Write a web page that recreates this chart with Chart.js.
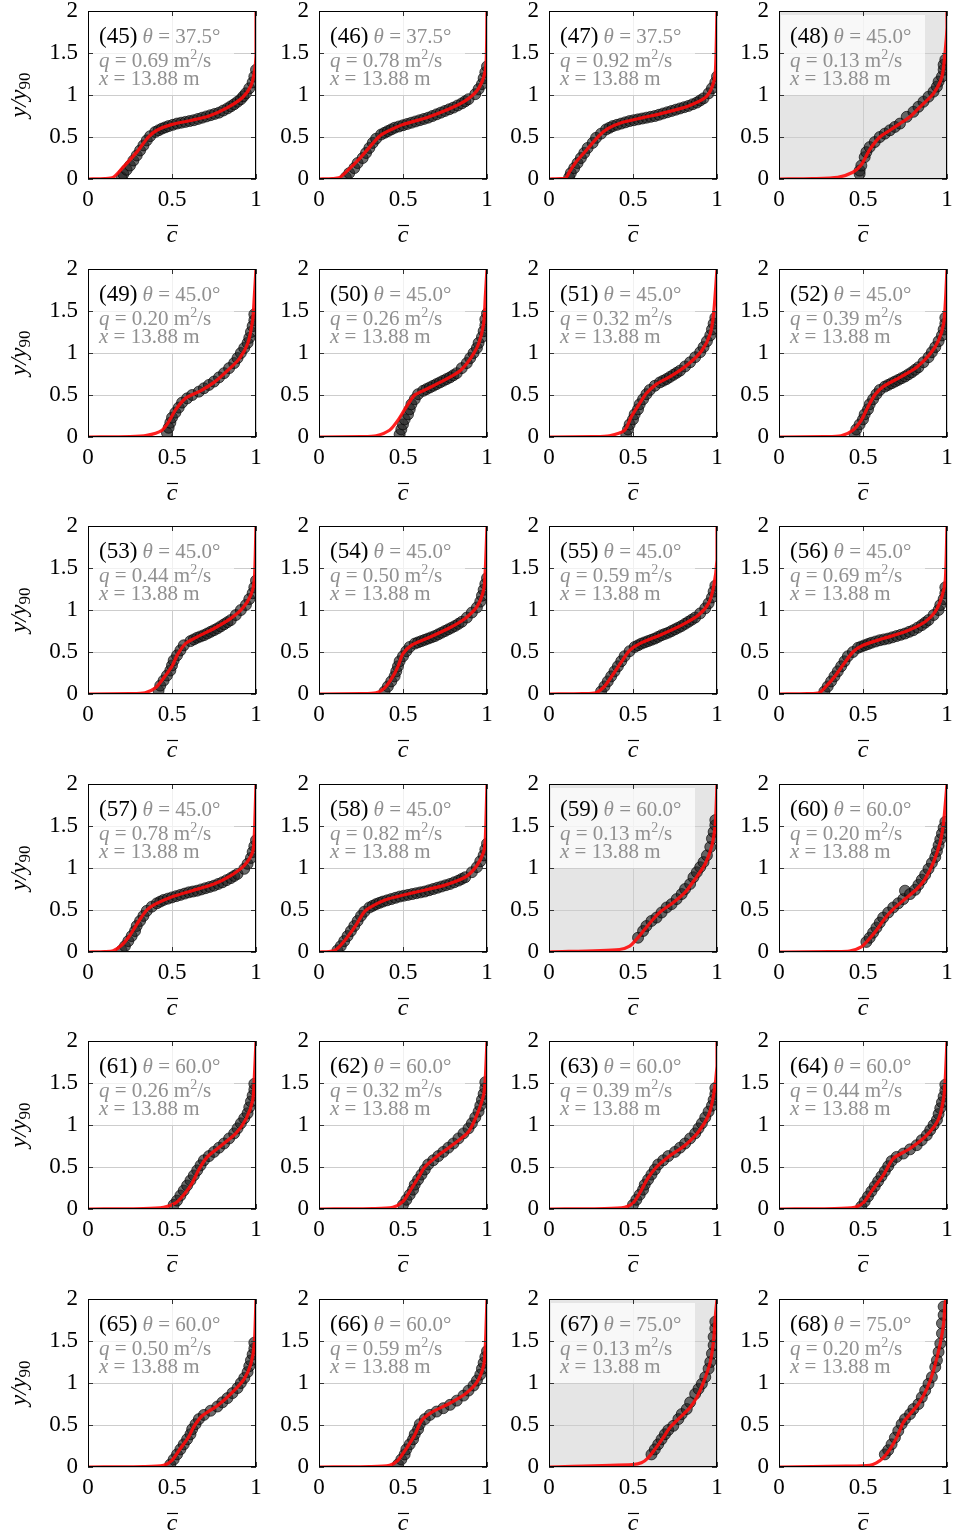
<!DOCTYPE html>
<html lang="en">
<head>
<meta charset="UTF-8">
<title>Concentration profiles</title>
<script src="https://cdn.jsdelivr.net/npm/chart.js"></script>
<style>
  body { margin: 0; background: #fff; }
  #grid { position: relative; width: 959px; height: 1532px; overflow: hidden; }
  #grid canvas { position: absolute; }
</style>
</head>
<body>
<div id="grid"></div>
<script>
// run info
const panelIds = [45, 46, 47, 48, 49, 50, 51, 52, 53, 54, 55, 56, 57, 58, 59, 60, 61, 62, 63, 64, 65, 66, 67, 68];
const thetas = [37.5, 37.5, 37.5, 45.0, 45.0, 45.0, 45.0, 45.0, 45.0, 45.0, 45.0, 45.0, 45.0, 45.0, 60.0, 60.0, 60.0, 60.0, 60.0, 60.0, 60.0, 60.0, 75.0, 75.0];
const discharges = [0.69, 0.78, 0.92, 0.13, 0.20, 0.26, 0.32, 0.39, 0.44, 0.50, 0.59, 0.69, 0.78, 0.82, 0.13, 0.20, 0.26, 0.32, 0.39, 0.44, 0.50, 0.59, 0.13, 0.20];
const stations = [13.88, 13.88, 13.88, 13.88, 13.88, 13.88, 13.88, 13.88, 13.88, 13.88, 13.88, 13.88, 13.88, 13.88, 13.88, 13.88, 13.88, 13.88, 13.88, 13.88, 13.88, 13.88, 13.88, 13.88];
const shadedPanels = [48, 59, 67];

const xTicks = [0, 0.5, 1];
const yTicks = [0, 0.5, 1, 1.5, 2];

// fitted profiles, [c, y/y90]
const fit45 = [[0,0],[0.1,0.005],[0.15,0.02],[0.2,0.12],[0.29,0.32],[0.36,0.5],[0.41,0.58],[0.5,0.65],[0.62,0.7],[0.72,0.75],[0.83,0.85],[0.92,0.97],[0.97,1.11],[0.99,1.27],[1,1.47],[1,2]];
const fit46 = [[0,0],[0.08,0.005],[0.12,0.015],[0.17,0.1],[0.24,0.24],[0.31,0.4],[0.36,0.51],[0.41,0.57],[0.5,0.65],[0.64,0.73],[0.77,0.83],[0.87,0.93],[0.94,1.05],[0.98,1.21],[0.995,1.39],[1,2]];
const fit47 = [[0,0],[0.07,0.004],[0.1,0.01],[0.12,0.08],[0.16,0.2],[0.23,0.36],[0.3,0.52],[0.35,0.6],[0.43,0.67],[0.56,0.73],[0.69,0.79],[0.83,0.87],[0.93,0.97],[0.97,1.09],[0.99,1.27],[1,2]];
const fit48 = [[0,0],[0.2,0.005],[0.35,0.02],[0.44,0.08],[0.49,0.17],[0.54,0.35],[0.6,0.5],[0.66,0.58],[0.72,0.66],[0.78,0.74],[0.84,0.86],[0.92,1.02],[0.97,1.22],[0.99,1.54],[1,1.8],[1,2]];
const fit49 = [[0,0],[0.25,0.005],[0.35,0.02],[0.44,0.08],[0.48,0.18],[0.52,0.32],[0.58,0.46],[0.67,0.55],[0.75,0.65],[0.83,0.79],[0.9,0.93],[0.95,1.11],[0.98,1.39],[0.99,1.67],[1,2]];
const fit50 = [[0,0],[0.25,0.005],[0.34,0.015],[0.42,0.08],[0.47,0.2],[0.52,0.36],[0.57,0.5],[0.64,0.57],[0.74,0.67],[0.84,0.79],[0.9,0.93],[0.95,1.11],[0.98,1.35],[0.99,1.67],[1,2]];
const fit51 = [[0,0],[0.26,0.005],[0.36,0.015],[0.45,0.08],[0.49,0.24],[0.54,0.4],[0.58,0.52],[0.64,0.63],[0.73,0.73],[0.83,0.87],[0.91,1.03],[0.96,1.23],[0.98,1.47],[1,2]];
const fit52 = [[0,0],[0.27,0.005],[0.37,0.015],[0.44,0.08],[0.49,0.2],[0.53,0.36],[0.57,0.5],[0.62,0.6],[0.72,0.71],[0.82,0.83],[0.9,0.99],[0.95,1.15],[0.98,1.35],[0.99,1.59],[1,2]];
const fit53 = [[0,0],[0.25,0.005],[0.34,0.015],[0.4,0.07],[0.45,0.19],[0.5,0.33],[0.53,0.46],[0.58,0.6],[0.65,0.68],[0.75,0.78],[0.85,0.9],[0.92,1.02],[0.97,1.18],[0.99,1.36],[1,2]];
const fit54 = [[0,0],[0.25,0.005],[0.34,0.015],[0.39,0.07],[0.44,0.21],[0.47,0.33],[0.5,0.48],[0.55,0.58],[0.64,0.66],[0.77,0.78],[0.87,0.9],[0.94,1.04],[0.98,1.24],[0.99,1.48],[1,2]];
const fit55 = [[0,0],[0.2,0.005],[0.28,0.015],[0.33,0.09],[0.38,0.23],[0.43,0.38],[0.48,0.52],[0.54,0.6],[0.66,0.7],[0.79,0.82],[0.89,0.94],[0.95,1.08],[0.98,1.28],[1,1.6],[1,2]];
const fit56 = [[0,0],[0.17,0.005],[0.24,0.015],[0.28,0.09],[0.34,0.23],[0.39,0.37],[0.44,0.5],[0.5,0.58],[0.62,0.66],[0.75,0.74],[0.87,0.86],[0.93,0.98],[0.97,1.16],[0.99,1.36],[1,2]];
const fit57 = [[0,0],[0.1,0.005],[0.15,0.015],[0.2,0.08],[0.25,0.2],[0.3,0.36],[0.35,0.5],[0.4,0.57],[0.49,0.65],[0.62,0.73],[0.75,0.81],[0.85,0.91],[0.93,1.03],[0.98,1.19],[0.99,1.39],[1,2]];
const fit58 = [[0,0],[0.06,0.005],[0.09,0.015],[0.12,0.06],[0.17,0.18],[0.22,0.32],[0.27,0.48],[0.32,0.55],[0.41,0.63],[0.57,0.71],[0.74,0.79],[0.87,0.89],[0.94,1.03],[0.98,1.19],[0.99,1.35],[1,2]];
const fit59 = [[0,0],[0.42,0.03],[0.48,0.07],[0.52,0.15],[0.57,0.27],[0.62,0.39],[0.67,0.49],[0.74,0.59],[0.81,0.71],[0.87,0.87],[0.93,1.05],[0.97,1.27],[0.99,1.53],[1,2]];
const fit60 = [[0,0],[0.3,0.005],[0.42,0.01],[0.49,0.06],[0.53,0.14],[0.58,0.26],[0.63,0.4],[0.68,0.51],[0.75,0.63],[0.82,0.75],[0.87,0.87],[0.92,1.07],[0.96,1.31],[0.98,1.55],[1,2]];
const fit61 = [[0,0],[0.33,0.005],[0.45,0.02],[0.52,0.07],[0.57,0.17],[0.62,0.31],[0.66,0.47],[0.71,0.62],[0.79,0.75],[0.88,0.9],[0.94,1.07],[0.98,1.29],[0.99,1.56],[1,2]];
const fit62 = [[0,0],[0.32,0.005],[0.44,0.02],[0.5,0.09],[0.54,0.21],[0.59,0.37],[0.63,0.5],[0.71,0.64],[0.8,0.77],[0.89,0.92],[0.94,1.12],[0.98,1.36],[0.99,1.56],[1,2]];
const fit63 = [[0,0],[0.33,0.005],[0.45,0.02],[0.5,0.07],[0.54,0.19],[0.59,0.37],[0.64,0.5],[0.71,0.62],[0.81,0.76],[0.89,0.92],[0.95,1.12],[0.98,1.36],[1,1.7],[1,2]];
const fit64 = [[0,0],[0.33,0.005],[0.45,0.02],[0.5,0.07],[0.55,0.21],[0.62,0.4],[0.68,0.6],[0.78,0.72],[0.88,0.88],[0.95,1.07],[0.98,1.32],[0.99,1.56],[1,2]];
const fit65 = [[0,0],[0.33,0.005],[0.45,0.02],[0.5,0.08],[0.55,0.22],[0.6,0.36],[0.63,0.48],[0.68,0.61],[0.77,0.73],[0.85,0.87],[0.93,1.05],[0.97,1.23],[0.99,1.47],[1,2]];
const fit66 = [[0,0],[0.3,0.005],[0.42,0.02],[0.47,0.08],[0.52,0.22],[0.57,0.38],[0.61,0.55],[0.67,0.65],[0.77,0.75],[0.87,0.87],[0.94,1.01],[0.98,1.21],[0.99,1.43],[1,2]];
const fit67 = [[0,0],[0.5,0.03],[0.55,0.05],[0.59,0.11],[0.63,0.21],[0.68,0.35],[0.72,0.47],[0.78,0.59],[0.84,0.71],[0.88,0.83],[0.92,1.01],[0.96,1.25],[0.98,1.51],[0.99,1.79],[1,2]];
const fit68 = [[0,0],[0.4,0.01],[0.54,0.02],[0.58,0.05],[0.62,0.11],[0.66,0.21],[0.7,0.35],[0.74,0.53],[0.78,0.63],[0.83,0.75],[0.88,0.93],[0.92,1.15],[0.96,1.47],[0.98,1.71],[0.99,1.97],[1,2]];

// measured profiles, [c, y/y90]
const obs45 = [[0.2,0.02],[0.21,0.06],[0.23,0.11],[0.25,0.16],[0.27,0.22],[0.29,0.28],[0.31,0.34],[0.33,0.4],[0.35,0.46],[0.37,0.51],[0.4,0.56],[0.42,0.58],[0.44,0.6],[0.46,0.615],[0.48,0.63],[0.505,0.645],[0.53,0.66],[0.555,0.67],[0.58,0.68],[0.605,0.69],[0.63,0.7],[0.655,0.715],[0.68,0.73],[0.705,0.745],[0.73,0.76],[0.755,0.775],[0.78,0.79],[0.805,0.815],[0.83,0.84],[0.85,0.865],[0.87,0.89],[0.89,0.92],[0.91,0.95],[0.925,0.985],[0.94,1.02],[0.96,1.08],[0.98,1.15],[0.99,1.22],[1,1.3]];
const obs46 = [[0.16,0.02],[0.18,0.07],[0.21,0.13],[0.23,0.19],[0.26,0.25],[0.28,0.31],[0.3,0.37],[0.32,0.43],[0.34,0.48],[0.37,0.53],[0.39,0.55],[0.41,0.57],[0.43,0.59],[0.45,0.61],[0.475,0.625],[0.5,0.64],[0.525,0.655],[0.55,0.67],[0.575,0.685],[0.6,0.7],[0.625,0.715],[0.65,0.73],[0.675,0.75],[0.7,0.77],[0.725,0.79],[0.75,0.81],[0.775,0.83],[0.8,0.85],[0.825,0.875],[0.85,0.9],[0.87,0.925],[0.89,0.95],[0.93,1.01],[0.95,1.07],[0.97,1.13],[0.98,1.2],[0.99,1.27],[1,1.34]];
const obs47 = [[0.12,0.02],[0.13,0.07],[0.15,0.13],[0.17,0.19],[0.19,0.25],[0.21,0.31],[0.23,0.37],[0.26,0.43],[0.28,0.49],[0.31,0.54],[0.34,0.59],[0.36,0.61],[0.38,0.63],[0.405,0.645],[0.43,0.66],[0.455,0.675],[0.48,0.69],[0.505,0.7],[0.53,0.71],[0.555,0.72],[0.58,0.73],[0.605,0.74],[0.63,0.75],[0.655,0.765],[0.68,0.78],[0.705,0.795],[0.73,0.81],[0.755,0.825],[0.78,0.84],[0.805,0.855],[0.83,0.87],[0.855,0.89],[0.88,0.91],[0.9,0.935],[0.92,0.96],[0.95,1.02],[0.97,1.08],[0.99,1.15],[1,1.22]];
const obs48 = [[0.48,0.06],[0.48,0.1],[0.49,0.16],[0.51,0.26],[0.52,0.32],[0.54,0.38],[0.57,0.44],[0.6,0.5],[0.63,0.54],[0.66,0.58],[0.69,0.62],[0.72,0.66],[0.76,0.74],[0.8,0.8],[0.83,0.86],[0.86,0.92],[0.89,0.98],[0.92,1.04],[0.94,1.1],[0.95,1.16],[0.97,1.22],[0.98,1.3],[0.98,1.36],[0.99,1.42]];
const obs49 = [[0.47,0.05],[0.48,0.11],[0.49,0.17],[0.5,0.23],[0.52,0.29],[0.54,0.35],[0.56,0.41],[0.59,0.46],[0.62,0.5],[0.66,0.54],[0.69,0.58],[0.72,0.62],[0.75,0.66],[0.78,0.71],[0.81,0.76],[0.84,0.82],[0.87,0.88],[0.89,0.94],[0.91,1],[0.93,1.06],[0.95,1.12],[0.96,1.18],[0.97,1.25],[0.98,1.32],[0.99,1.39],[0.99,1.46]];
const obs50 = [[0.48,0.03],[0.49,0.09],[0.5,0.15],[0.51,0.21],[0.53,0.27],[0.54,0.33],[0.55,0.39],[0.57,0.45],[0.59,0.51],[0.62,0.55],[0.64,0.57],[0.66,0.59],[0.68,0.61],[0.7,0.63],[0.72,0.65],[0.74,0.67],[0.76,0.69],[0.78,0.71],[0.8,0.735],[0.82,0.76],[0.85,0.82],[0.88,0.88],[0.9,0.94],[0.92,1],[0.94,1.06],[0.95,1.12],[0.97,1.19],[0.98,1.26],[0.99,1.33],[0.99,1.4],[1,1.47]];
const obs51 = [[0.46,0.03],[0.47,0.09],[0.48,0.15],[0.5,0.21],[0.51,0.27],[0.53,0.33],[0.54,0.39],[0.56,0.45],[0.58,0.51],[0.6,0.56],[0.63,0.61],[0.66,0.65],[0.68,0.67],[0.7,0.69],[0.72,0.715],[0.74,0.74],[0.76,0.765],[0.78,0.79],[0.81,0.84],[0.84,0.89],[0.87,0.95],[0.9,1.01],[0.92,1.07],[0.94,1.14],[0.96,1.21],[0.97,1.28],[0.98,1.35],[0.99,1.42]];
const obs52 = [[0.45,0.03],[0.46,0.09],[0.48,0.15],[0.5,0.21],[0.51,0.27],[0.53,0.33],[0.54,0.39],[0.56,0.45],[0.58,0.51],[0.6,0.56],[0.63,0.6],[0.65,0.62],[0.67,0.64],[0.69,0.66],[0.71,0.68],[0.73,0.7],[0.75,0.72],[0.77,0.745],[0.79,0.77],[0.81,0.8],[0.83,0.83],[0.86,0.89],[0.89,0.95],[0.91,1.01],[0.93,1.07],[0.95,1.14],[0.97,1.21],[0.98,1.28],[0.99,1.35],[0.99,1.42]];
const obs53 = [[0.42,0.04],[0.43,0.1],[0.45,0.16],[0.47,0.22],[0.49,0.28],[0.5,0.34],[0.51,0.4],[0.53,0.46],[0.55,0.52],[0.57,0.58],[0.61,0.63],[0.63,0.65],[0.65,0.67],[0.67,0.685],[0.69,0.7],[0.71,0.72],[0.73,0.74],[0.75,0.76],[0.77,0.78],[0.79,0.805],[0.81,0.83],[0.83,0.855],[0.85,0.88],[0.88,0.94],[0.91,1],[0.94,1.06],[0.96,1.13],[0.98,1.2],[0.99,1.27],[1,1.35]];
const obs54 = [[0.39,0.03],[0.41,0.09],[0.43,0.15],[0.45,0.21],[0.46,0.27],[0.47,0.33],[0.48,0.39],[0.5,0.45],[0.52,0.51],[0.54,0.56],[0.57,0.6],[0.59,0.615],[0.61,0.63],[0.63,0.645],[0.65,0.66],[0.67,0.675],[0.69,0.69],[0.71,0.71],[0.73,0.73],[0.75,0.75],[0.77,0.77],[0.79,0.79],[0.81,0.81],[0.83,0.835],[0.85,0.86],[0.88,0.91],[0.91,0.97],[0.94,1.03],[0.96,1.1],[0.97,1.17],[0.98,1.24],[0.99,1.31],[1,1.38]];
const obs55 = [[0.31,0.03],[0.33,0.09],[0.35,0.15],[0.37,0.21],[0.39,0.27],[0.41,0.33],[0.43,0.39],[0.45,0.45],[0.48,0.51],[0.51,0.56],[0.53,0.58],[0.55,0.6],[0.57,0.615],[0.59,0.63],[0.61,0.645],[0.63,0.66],[0.65,0.68],[0.67,0.7],[0.69,0.715],[0.71,0.73],[0.73,0.75],[0.75,0.77],[0.77,0.79],[0.79,0.81],[0.81,0.835],[0.83,0.86],[0.85,0.885],[0.87,0.91],[0.9,0.96],[0.93,1.02],[0.95,1.08],[0.97,1.15],[0.98,1.22],[0.99,1.29]];
const obs56 = [[0.27,0.03],[0.29,0.09],[0.31,0.15],[0.33,0.21],[0.35,0.27],[0.37,0.33],[0.39,0.39],[0.41,0.45],[0.44,0.5],[0.47,0.55],[0.49,0.565],[0.51,0.58],[0.53,0.595],[0.55,0.61],[0.575,0.625],[0.6,0.64],[0.625,0.65],[0.65,0.66],[0.675,0.675],[0.7,0.69],[0.725,0.705],[0.75,0.72],[0.775,0.74],[0.8,0.76],[0.825,0.79],[0.85,0.82],[0.87,0.85],[0.89,0.88],[0.92,0.94],[0.95,1],[0.96,1.06],[0.98,1.13],[0.99,1.2],[0.99,1.27]];
const obs57 = [[0.2,0.02],[0.22,0.07],[0.24,0.13],[0.26,0.19],[0.28,0.25],[0.29,0.31],[0.31,0.37],[0.33,0.43],[0.35,0.49],[0.38,0.54],[0.41,0.58],[0.43,0.6],[0.45,0.62],[0.475,0.635],[0.5,0.65],[0.525,0.665],[0.55,0.68],[0.575,0.695],[0.6,0.71],[0.625,0.72],[0.65,0.73],[0.675,0.745],[0.7,0.76],[0.725,0.775],[0.75,0.79],[0.775,0.81],[0.8,0.83],[0.825,0.855],[0.85,0.88],[0.87,0.905],[0.89,0.93],[0.93,0.99],[0.95,1.05],[0.97,1.12],[0.98,1.19],[0.99,1.26],[1,1.33]];
const obs58 = [[0.11,0.02],[0.13,0.07],[0.15,0.13],[0.17,0.19],[0.19,0.25],[0.21,0.31],[0.23,0.37],[0.25,0.43],[0.27,0.48],[0.3,0.53],[0.32,0.55],[0.34,0.57],[0.36,0.585],[0.38,0.6],[0.405,0.615],[0.43,0.63],[0.455,0.645],[0.48,0.66],[0.505,0.67],[0.53,0.68],[0.555,0.69],[0.58,0.7],[0.605,0.71],[0.63,0.72],[0.655,0.735],[0.68,0.75],[0.705,0.765],[0.73,0.78],[0.755,0.795],[0.78,0.81],[0.805,0.83],[0.83,0.85],[0.85,0.87],[0.87,0.89],[0.91,0.95],[0.94,1.01],[0.96,1.08],[0.98,1.15],[0.99,1.22],[1,1.29]];
const obs59 = [[0.53,0.17],[0.56,0.25],[0.58,0.31],[0.61,0.37],[0.64,0.41],[0.67,0.47],[0.7,0.53],[0.73,0.57],[0.76,0.63],[0.79,0.69],[0.81,0.75],[0.84,0.81],[0.86,0.89],[0.88,0.95],[0.9,1.01],[0.92,1.07],[0.94,1.15],[0.96,1.25],[0.97,1.35],[0.98,1.43],[0.99,1.51],[0.99,1.57]];
const obs60 = [[0.52,0.12],[0.54,0.17],[0.56,0.23],[0.58,0.29],[0.6,0.35],[0.62,0.41],[0.65,0.47],[0.68,0.53],[0.71,0.58],[0.74,0.63],[0.75,0.73],[0.78,0.69],[0.81,0.74],[0.83,0.8],[0.85,0.86],[0.87,0.92],[0.89,0.99],[0.91,1.06],[0.93,1.13],[0.94,1.2],[0.95,1.27],[0.96,1.34],[0.97,1.41],[0.98,1.48],[0.99,1.55]];
const obs61 = [[0.51,0.05],[0.53,0.1],[0.55,0.16],[0.57,0.22],[0.59,0.28],[0.61,0.34],[0.63,0.4],[0.65,0.46],[0.67,0.52],[0.69,0.58],[0.72,0.63],[0.75,0.68],[0.78,0.73],[0.81,0.78],[0.84,0.84],[0.87,0.9],[0.89,0.96],[0.91,1.02],[0.93,1.08],[0.95,1.14],[0.96,1.21],[0.97,1.28],[0.98,1.35],[0.99,1.42],[0.99,1.49]];
const obs62 = [[0.5,0.05],[0.52,0.11],[0.54,0.17],[0.56,0.23],[0.57,0.29],[0.59,0.35],[0.61,0.41],[0.63,0.47],[0.65,0.53],[0.68,0.58],[0.71,0.63],[0.74,0.68],[0.77,0.73],[0.8,0.78],[0.83,0.84],[0.86,0.9],[0.89,0.96],[0.91,1.02],[0.93,1.09],[0.95,1.16],[0.96,1.23],[0.97,1.3],[0.98,1.37],[0.99,1.44],[0.99,1.51]];
const obs63 = [[0.5,0.05],[0.52,0.11],[0.54,0.17],[0.56,0.23],[0.57,0.29],[0.59,0.35],[0.61,0.41],[0.63,0.47],[0.65,0.53],[0.68,0.58],[0.71,0.63],[0.75,0.68],[0.78,0.73],[0.81,0.78],[0.84,0.84],[0.87,0.9],[0.89,0.96],[0.91,1.02],[0.93,1.09],[0.95,1.16],[0.97,1.23],[0.98,1.3],[0.99,1.37],[0.99,1.44]];
const obs64 = [[0.49,0.03],[0.51,0.09],[0.53,0.15],[0.55,0.21],[0.57,0.27],[0.59,0.33],[0.61,0.39],[0.63,0.45],[0.65,0.51],[0.67,0.57],[0.7,0.62],[0.74,0.66],[0.78,0.71],[0.82,0.76],[0.85,0.82],[0.88,0.88],[0.9,0.94],[0.92,1],[0.94,1.06],[0.95,1.13],[0.96,1.2],[0.97,1.27],[0.98,1.34],[0.99,1.41],[0.99,1.48]];
const obs65 = [[0.49,0.03],[0.51,0.09],[0.53,0.15],[0.55,0.21],[0.57,0.27],[0.59,0.33],[0.61,0.39],[0.62,0.45],[0.64,0.51],[0.66,0.57],[0.69,0.62],[0.73,0.67],[0.77,0.72],[0.8,0.77],[0.83,0.82],[0.86,0.88],[0.89,0.94],[0.91,1],[0.93,1.06],[0.95,1.13],[0.96,1.2],[0.97,1.27],[0.98,1.34],[0.99,1.41],[0.99,1.48]];
const obs66 = [[0.47,0.03],[0.49,0.09],[0.51,0.15],[0.52,0.21],[0.54,0.27],[0.56,0.33],[0.57,0.39],[0.59,0.45],[0.6,0.51],[0.63,0.57],[0.66,0.62],[0.7,0.66],[0.74,0.7],[0.78,0.74],[0.82,0.79],[0.86,0.85],[0.89,0.91],[0.92,0.97],[0.94,1.03],[0.96,1.1],[0.97,1.17],[0.98,1.24],[0.99,1.31],[1,1.38]];
const obs67 = [[0.61,0.15],[0.63,0.21],[0.65,0.27],[0.67,0.33],[0.69,0.39],[0.71,0.44],[0.74,0.49],[0.77,0.57],[0.79,0.63],[0.82,0.69],[0.84,0.77],[0.87,0.87],[0.89,0.93],[0.91,0.99],[0.93,1.07],[0.95,1.17],[0.96,1.25],[0.97,1.35],[0.98,1.45],[0.98,1.55],[0.99,1.65],[0.99,1.73]];
const obs68 = [[0.63,0.15],[0.65,0.2],[0.67,0.27],[0.69,0.35],[0.71,0.43],[0.73,0.51],[0.75,0.57],[0.78,0.63],[0.8,0.69],[0.83,0.75],[0.85,0.83],[0.87,0.91],[0.89,0.99],[0.91,1.07],[0.93,1.19],[0.94,1.27],[0.95,1.37],[0.96,1.47],[0.97,1.59],[0.97,1.71],[0.98,1.81],[0.98,1.91]];

const fits = {45: fit45, 46: fit46, 47: fit47, 48: fit48, 49: fit49, 50: fit50, 51: fit51, 52: fit52, 53: fit53, 54: fit54, 55: fit55, 56: fit56,
              57: fit57, 58: fit58, 59: fit59, 60: fit60, 61: fit61, 62: fit62, 63: fit63, 64: fit64, 65: fit65, 66: fit66, 67: fit67, 68: fit68};
const observations = {45: obs45, 46: obs46, 47: obs47, 48: obs48, 49: obs49, 50: obs50, 51: obs51, 52: obs52, 53: obs53, 54: obs54, 55: obs55, 56: obs56,
              57: obs57, 58: obs58, 59: obs59, 60: obs60, 61: obs61, 62: obs62, 63: obs63, 64: obs64, 65: obs65, 66: obs66, 67: obs67, 68: obs68};

// page layout (plot area corners, px)
const plotLefts = [88, 319, 549, 779];
const plotTops = [11, 269, 526, 784, 1041, 1299];
const PLOT = 168, PAD_L = 88, PAD_T = 18, PAD_R = 14, PAD_B = 75;

const SERIF = '"Liberation Serif", "DejaVu Serif", serif';
const GREY = '#909090';

function drawRuns(ctx, x, y, runs) {
    for (const r of runs) {
        ctx.font = r.font;
        ctx.fillStyle = r.color;
        ctx.fillText(r.text, x, y + (r.dy || 0));
        x += ctx.measureText(r.text).width;
    }
    return x;
}

// keep every plot area at the same fixed spot inside its canvas
function pinAxis(s, size) {
    if (s.isHorizontal()) s.height = size; else s.width = size;
    s.paddingTop = s.paddingBottom = s.paddingLeft = s.paddingRight = 0;
}

const panelDecor = {
    id: 'panelDecor',
    beforeDraw(chart, args, opts) {
        if (!opts.shaded) return;
        const a = chart.chartArea, ctx = chart.ctx;
        ctx.save();
        ctx.fillStyle = '#e5e5e5';
        ctx.fillRect(a.left, a.top, a.right - a.left, a.bottom - a.top);
        ctx.restore();
    },
    beforeDatasetsDraw(chart, args, opts) {
        const a = chart.chartArea, ctx = chart.ctx;
        const boxBottom = chart.scales.y.getPixelForValue(1);
        ctx.save();
        ctx.fillStyle = 'rgba(255,255,255,0.72)';
        ctx.fillRect(a.left + 2, a.top + 4, 144, boxBottom - a.top - 4);

        ctx.textBaseline = 'alphabetic';
        ctx.textAlign = 'left';
        const x0 = a.left + 11;
        const up = `21px ${SERIF}`, it = `italic 21px ${SERIF}`;
        drawRuns(ctx, x0, a.top + 32, [
            { text: `(${opts.id})`, font: `23px ${SERIF}`, color: '#000' },
            { text: ' ', font: up, color: GREY },
            { text: 'θ', font: it, color: GREY },
            { text: ` = ${opts.theta.toFixed(1)}°`, font: up, color: GREY }
        ]);
        drawRuns(ctx, x0, a.top + 56, [
            { text: 'q', font: it, color: GREY },
            { text: ` = ${opts.q.toFixed(2)} m`, font: up, color: GREY },
            { text: '2', font: `14px ${SERIF}`, color: GREY, dy: -8 },
            { text: '/s', font: up, color: GREY }
        ]);
        drawRuns(ctx, x0, a.top + 74, [
            { text: 'x', font: it, color: GREY },
            { text: ` = ${opts.x.toFixed(2)} m`, font: up, color: GREY }
        ]);
        ctx.restore();
    },
    afterDraw(chart, args, opts) {
        const a = chart.chartArea, ctx = chart.ctx;
        const xs = chart.scales.x, ys = chart.scales.y;
        ctx.save();
        // inner tick marks on all four sides
        ctx.strokeStyle = '#333';
        ctx.lineWidth = 1;
        ctx.beginPath();
        for (const v of xTicks) {
            const px = Math.round(xs.getPixelForValue(v)) + 0.5;
            ctx.moveTo(px, a.top); ctx.lineTo(px, a.top + 5);
            ctx.moveTo(px, a.bottom); ctx.lineTo(px, a.bottom - 5);
        }
        for (const v of yTicks) {
            const py = Math.round(ys.getPixelForValue(v)) + 0.5;
            ctx.moveTo(a.left, py); ctx.lineTo(a.left + 5, py);
            ctx.moveTo(a.right, py); ctx.lineTo(a.right - 5, py);
        }
        ctx.stroke();
        // frame
        ctx.strokeStyle = '#000';
        ctx.strokeRect(a.left + 0.5, a.top + 0.5, a.right - a.left - 1, a.bottom - a.top - 1);

        // x title: c with an overbar
        ctx.fillStyle = '#000';
        ctx.font = `italic 24px ${SERIF}`;
        ctx.textAlign = 'center';
        ctx.textBaseline = 'alphabetic';
        const cx = (a.left + a.right) / 2, cy = a.bottom + 63;
        ctx.fillText('c', cx, cy);
        ctx.lineWidth = 1.2;
        ctx.beginPath();
        ctx.moveTo(cx - 5, cy - 16.5); ctx.lineTo(cx + 6, cy - 16.5);
        ctx.stroke();

        // y title on the first column
        if (opts.yTitle) {
            ctx.translate(a.left - 68, (a.top + a.bottom) / 2);
            ctx.rotate(-Math.PI / 2);
            ctx.textAlign = 'left';
            ctx.textBaseline = 'middle';
            ctx.font = `italic 24px ${SERIF}`;
            const w1 = ctx.measureText('y/y').width;
            ctx.font = `17px ${SERIF}`;
            const w2 = ctx.measureText('90').width;
            const x = -(w1 + w2) / 2;
            ctx.font = `italic 24px ${SERIF}`;
            ctx.fillText('y/y', x, 0);
            ctx.font = `17px ${SERIF}`;
            ctx.fillText('90', x + w1, 6);
        }
        ctx.restore();
    }
};

const holder = document.getElementById('grid');

panelIds.forEach((id, i) => {
    const row = Math.floor(i / 4), col = i % 4;
    const canvas = document.createElement('canvas');
    canvas.width = PAD_L + PLOT + PAD_R;
    canvas.height = PAD_T + PLOT + PAD_B;
    canvas.style.left = (plotLefts[col] - PAD_L) + 'px';
    canvas.style.top = (plotTops[row] - PAD_T) + 'px';
    holder.appendChild(canvas);

    const tickFont = { family: SERIF, size: 23, lineHeight: 1 };

    new Chart(canvas, {
        type: 'scatter',
        data: {
            datasets: [
                {
                    type: 'line',
                    data: fits[id].map(p => ({ x: p[0], y: p[1] })),
                    borderColor: 'rgba(255,10,10,0.9)',
                    borderWidth: 3.2,
                    pointRadius: 0,
                    tension: 0.25,
                    fill: false,
                    order: 0
                },
                {
                    data: observations[id].map(p => ({ x: p[0], y: p[1] })),
                    pointRadius: 5.5,
                    backgroundColor: 'rgba(30,30,30,0.65)',
                    borderColor: 'rgba(0,0,0,0.65)',
                    borderWidth: 1,
                    order: 1
                }
            ]
        },
        options: {
            responsive: false,
            animation: false,
            devicePixelRatio: 1,
            events: [],
            layout: { padding: { top: PAD_T, right: PAD_R, left: 0, bottom: 0 } },
            plugins: {
                legend: { display: false },
                tooltip: { enabled: false },
                panelDecor: {
                    id: id,
                    theta: thetas[i],
                    q: discharges[i],
                    x: stations[i],
                    shaded: shadedPanels.includes(id),
                    yTitle: col === 0
                }
            },
            scales: {
                x: {
                    type: 'linear',
                    min: 0, max: 1,
                    afterBuildTicks: s => { s.ticks = xTicks.map(v => ({ value: v })); },
                    afterFit: s => pinAxis(s, PAD_B),
                    grid: { color: '#cdcdcd', lineWidth: 1, drawTicks: false },
                    border: { display: false },
                    ticks: { padding: 9, color: '#000', font: tickFont, maxRotation: 0, autoSkip: false,
                             callback: v => String(v) }
                },
                y: {
                    type: 'linear',
                    min: 0, max: 2,
                    afterBuildTicks: s => { s.ticks = yTicks.map(v => ({ value: v })); },
                    afterFit: s => pinAxis(s, PAD_L),
                    grid: { color: '#cdcdcd', lineWidth: 1, drawTicks: false },
                    border: { display: false },
                    ticks: { padding: 10, color: '#000', font: tickFont, autoSkip: false,
                             callback: v => String(v) }
                }
            }
        },
        plugins: [panelDecor]
    });
});
</script>
</body>
</html>
